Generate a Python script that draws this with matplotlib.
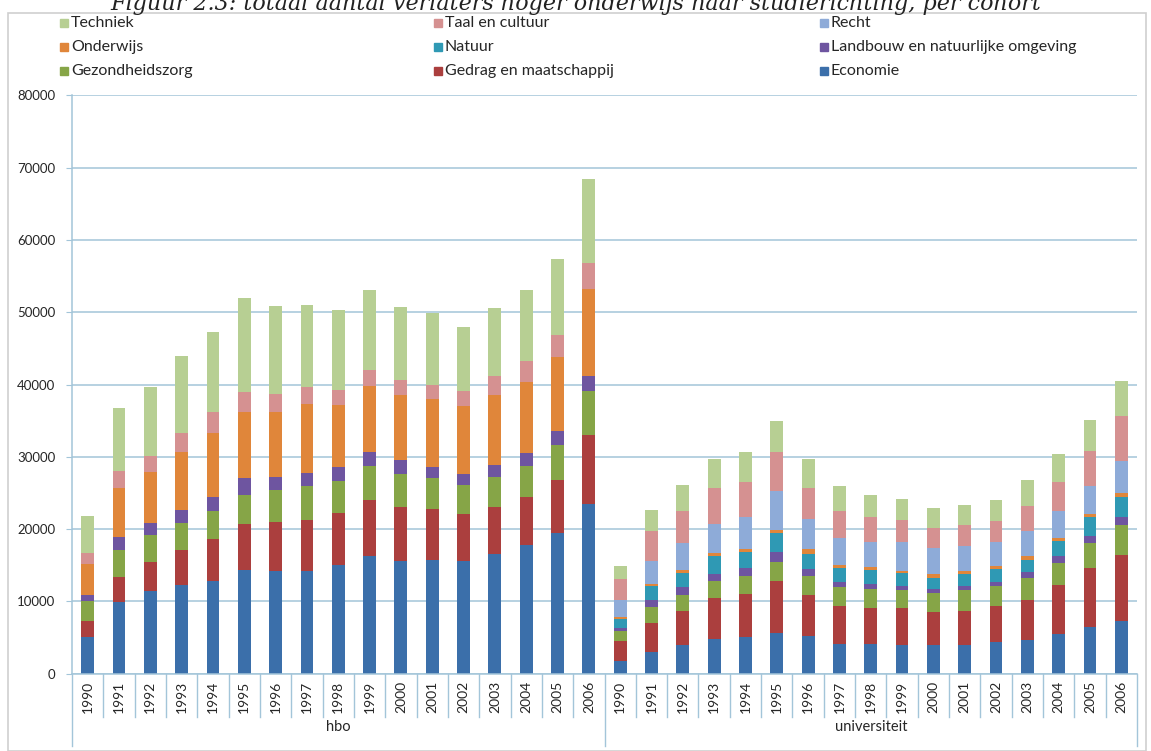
import matplotlib.pyplot as plt
from matplotlib.patches import Rectangle
from matplotlib.transforms import blended_transform_factory
import numpy as np

# years per group, hbo first then universiteit
years = [str(y) for y in range(1990, 2007)]
groups = ['hbo', 'universiteit']

economie = [5100, 9900, 11430, 12240, 12810, 14330, 14190, 14190, 15100, 16290, 15570, 15670, 15570, 16570, 17810, 19520, 23480,
            1800, 3000, 3920, 4800, 5030, 5630, 5170, 4150, 4150, 4010, 3920, 4010, 4340, 4660, 5540, 6460, 7290]
gedrag = [2140, 3530, 4000, 4810, 5760, 6340, 6760, 7000, 7190, 7760, 7480, 7090, 6570, 6480, 6570, 7240, 9470,
          2770, 4010, 4800, 5670, 6040, 7240, 5670, 5170, 4980, 5030, 4620, 4710, 4980, 5580, 6690, 8170, 9090]
gezondheid = [2760, 3710, 3710, 3810, 4000, 4000, 4480, 4760, 4420, 4710, 4570, 4290, 3960, 4190, 4290, 4910, 6190,
              1290, 2170, 2120, 2310, 2490, 2540, 2630, 2630, 2630, 2490, 2620, 2810, 2860, 2950, 3090, 3460, 4150]
landbouw = [950, 1810, 1720, 1760, 1860, 2380, 1810, 1760, 1860, 1950, 1900, 1520, 1470, 1660, 1850, 1900, 2000,
            510, 1020, 1110, 1060, 1070, 1380, 1060, 690, 700, 560, 560, 650, 550, 840, 920, 1010, 1150]
natuur = [0] * 17 + \
         [1240, 1890, 2030, 2400, 2160, 2680, 2080, 1990, 1840, 1840, 1520, 1660, 1710, 1750, 2170, 2540, 2770]
onderwijs = [4190, 6760, 7040, 8050, 8860, 9190, 9000, 9530, 8620, 9050, 9050, 9430, 9430, 9670, 9810, 10290, 12100,
             230, 370, 370, 420, 510, 460, 640, 410, 420, 330, 600, 320, 420, 460, 410, 460, 560]
recht = [0] * 17 + \
        [2310, 3180, 3740, 4100, 4340, 5400, 4200, 3740, 3460, 3920, 3510, 3460, 3320, 3460, 3740, 3830, 4380]
taal = [1620, 2290, 2200, 2620, 2900, 2660, 2430, 2380, 2050, 2290, 2050, 2000, 2050, 2570, 2960, 2950, 3570,
        3000, 4060, 4380, 4940, 4840, 5350, 4250, 3690, 3460, 3040, 2860, 2910, 2900, 3460, 3920, 4840, 6230]
techniek = [5050, 8760, 9520, 10710, 11100, 13050, 12140, 11330, 11050, 11050, 10090, 9950, 8950, 9480, 9810, 10520, 11670,
            1800, 3000, 3690, 4060, 4200, 4250, 4060, 3550, 3130, 2950, 2720, 2810, 3000, 3600, 3920, 4290, 4930]

series = [
    ('Economie', economie, '#3B6FAA'),
    ('Gedrag en maatschappij', gedrag, '#AB3F3E'),
    ('Gezondheidszorg', gezondheid, '#86A547'),
    ('Landbouw en natuurlijke omgeving', landbouw, '#6E55A0'),
    ('Natuur', natuur, '#2F99B4'),
    ('Onderwijs', onderwijs, '#E0863A'),
    ('Recht', recht, '#8EABD8'),
    ('Taal en cultuur', taal, '#D59191'),
    ('Techniek', techniek, '#B7CF93'),
]
legend_rows = [['Techniek', 'Taal en cultuur', 'Recht'],
               ['Onderwijs', 'Natuur', 'Landbouw en natuurlijke omgeving'],
               ['Gezondheidszorg', 'Gedrag en maatschappij', 'Economie']]

W, H = 1151, 751
FONT = ['Lato', 'DejaVu Sans']
gridc = '#A3C5D9'
txtc = '#262626'

def fx(px):
    return px / W

def fy(py):
    return 1 - py / H

fig = plt.figure(figsize=(W / 100, H / 100), dpi=100)

# chart frame + title (cut off at the top like the scan)
fig.patches.append(Rectangle((fx(8), fy(751)), fx(1146) - fx(8), fy(13) - fy(751),
                             transform=fig.transFigure, fill=False, ec='#CFCFCF', lw=1.2))
fig.text(0.5, fy(10), 'Figuur 2.3: totaal aantal verlaters hoger onderwijs naar studierichting, per cohort',
         ha='center', va='baseline', fontsize=16, style='italic', family='DejaVu Serif', color='#222222')

ax = fig.add_axes([fx(72), fy(673.7), fx(1137) - fx(72), fy(95.3) - fy(673.7)])
n = len(years) * len(groups)
x = np.arange(n)
bottom = np.zeros(n)
for name, vals, col in series:
    ax.bar(x, vals, 0.41, bottom=bottom, color=col, zorder=2)
    bottom += np.array(vals)

ax.set_xlim(-0.5, n - 0.5)
ax.set_ylim(0, 80000)
ax.set_yticks(range(0, 80001, 10000))
ax.yaxis.grid(True, color=gridc, lw=1.1)
ax.set_axisbelow(True)
for s in ['top', 'right']:
    ax.spines[s].set_visible(False)
for s in ['left', 'bottom']:
    ax.spines[s].set_color(gridc)
    ax.spines[s].set_linewidth(1.1)
ax.tick_params(axis='y', length=4, color=gridc, labelsize=9.5, labelcolor=txtc, pad=8)
for lab in ax.get_yticklabels():
    lab.set_family(FONT)
ax.set_xticks([])

# category axis: years, separators, group names
tr = blended_transform_factory(ax.transData, ax.transAxes)
ah = 673.7 - 95.3
y_sep = -(717 - 673.7) / ah
y_grp = -(746 - 673.7) / ah
for i in range(n):
    ax.text(i, -(681 - 673.7) / ah, years[i % len(years)], rotation=90, ha='center', va='top',
            transform=tr, fontsize=10, family=FONT, color=txtc)
for k in range(1, n):
    if k % len(years):
        ax.plot([k - 0.5, k - 0.5], [0, y_sep], transform=tr, color=gridc, lw=1, clip_on=False)
for k in range(len(groups) + 1):
    xs = k * len(years) - 0.5
    ax.plot([xs, xs], [0, y_grp], transform=tr, color=gridc, lw=1, clip_on=False)
for g, name in enumerate(groups):
    ax.text(g * len(years) + (len(years) - 1) / 2, -(727 - 673.7) / ah, name, ha='center', va='center',
            transform=tr, fontsize=10.5, family=FONT, color=txtc)

# legend, three columns like the original
colors = {name: col for name, _, col in series}
col_x = [60, 434, 820]
row_y = [23, 47, 71]
for r, row in enumerate(legend_rows):
    for c, name in enumerate(row):
        fig.patches.append(Rectangle((fx(col_x[c]), fy(row_y[r] + 4)), fx(8), 8 / H,
                                     transform=fig.transFigure, color=colors[name]))
        fig.text(fx(col_x[c] + 11), fy(row_y[r]), name, va='center', ha='left',
                 fontsize=11.5, family=FONT, color=txtc)

fig.savefig('out.png', dpi=100)
